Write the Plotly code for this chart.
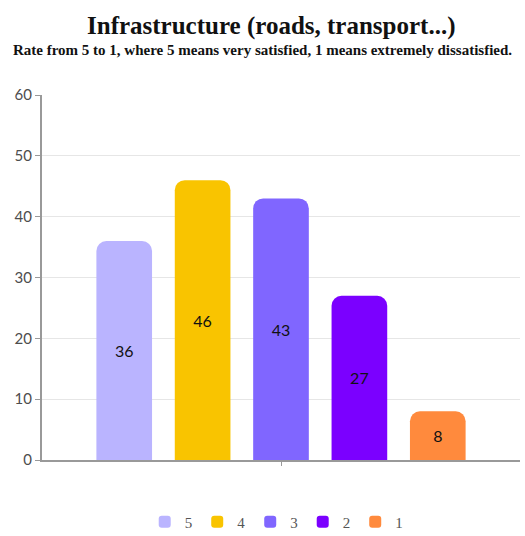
import plotly.graph_objects as go

ratings = ["5", "4", "3", "2", "1"]
counts = [36, 46, 43, 27, 8]
colors = ["#bab4ff", "#f9c400", "#8066ff", "#7b00ff", "#ff8a3d"]
category = [""]
title_text = "Infrastructure (roads, transport...)"
subtitle_text = "Rate from 5 to 1, where 5 means very satisfied, 1 means extremely dissatisfied."

fig = go.Figure()
for r, v, c in zip(ratings, counts, colors):
    fig.add_trace(go.Bar(
        x=category, y=[v], name=r,
        marker=dict(color=c, cornerradius=10, line=dict(width=0)),
        text=[str(v)], textposition="inside", insidetextanchor="middle",
        textfont=dict(family="Lato", size=16, color="#111111"),
        hoverinfo="skip",
    ))

fig.add_annotation(text="<b>" + title_text + "</b>", xref="paper", yref="paper",
                   x=0.479, y=1.19, xanchor="center", yanchor="middle",
                   showarrow=False, font=dict(family="Liberation Serif", size=25, color="#111111"))
fig.add_annotation(text="<b>" + subtitle_text + "</b>", xref="paper", yref="paper",
                   x=0.461, y=1.123, xanchor="center", yanchor="middle",
                   showarrow=False, font=dict(family="Liberation Serif", size=15, color="#111111"))

fig.update_layout(
    width=525, height=536,
    margin=dict(l=42, r=5, t=95, b=76, autoexpand=False),
    paper_bgcolor="white", plot_bgcolor="white",
    barmode="group", bargap=0.18, bargroupgap=0.29,
    showlegend=True,
    legend=dict(orientation="h", x=0.49, xanchor="center", y=-0.17, yanchor="middle",
                font=dict(family="Liberation Serif", size=15, color="#555555"),
                traceorder="normal"),
)
fig.update_yaxes(range=[0, 60], dtick=10, showgrid=True, gridcolor="#e6e6e6", gridwidth=1,
                 showline=True, linecolor="#999999", linewidth=2, ticks="outside", ticklen=5,
                 tickcolor="#999999", tickfont=dict(family="Lato", size=15, color="#4d4d4d"),
                 zeroline=False, automargin=False)
fig.update_xaxes(showline=True, linecolor="#999999", linewidth=2, ticks="outside", ticklen=4,
                 tickcolor="#999999", showgrid=False, automargin=False)

fig.write_html("out.html", config={"displayModeBar": False},
               post_script="document.body.style.margin='0';")
